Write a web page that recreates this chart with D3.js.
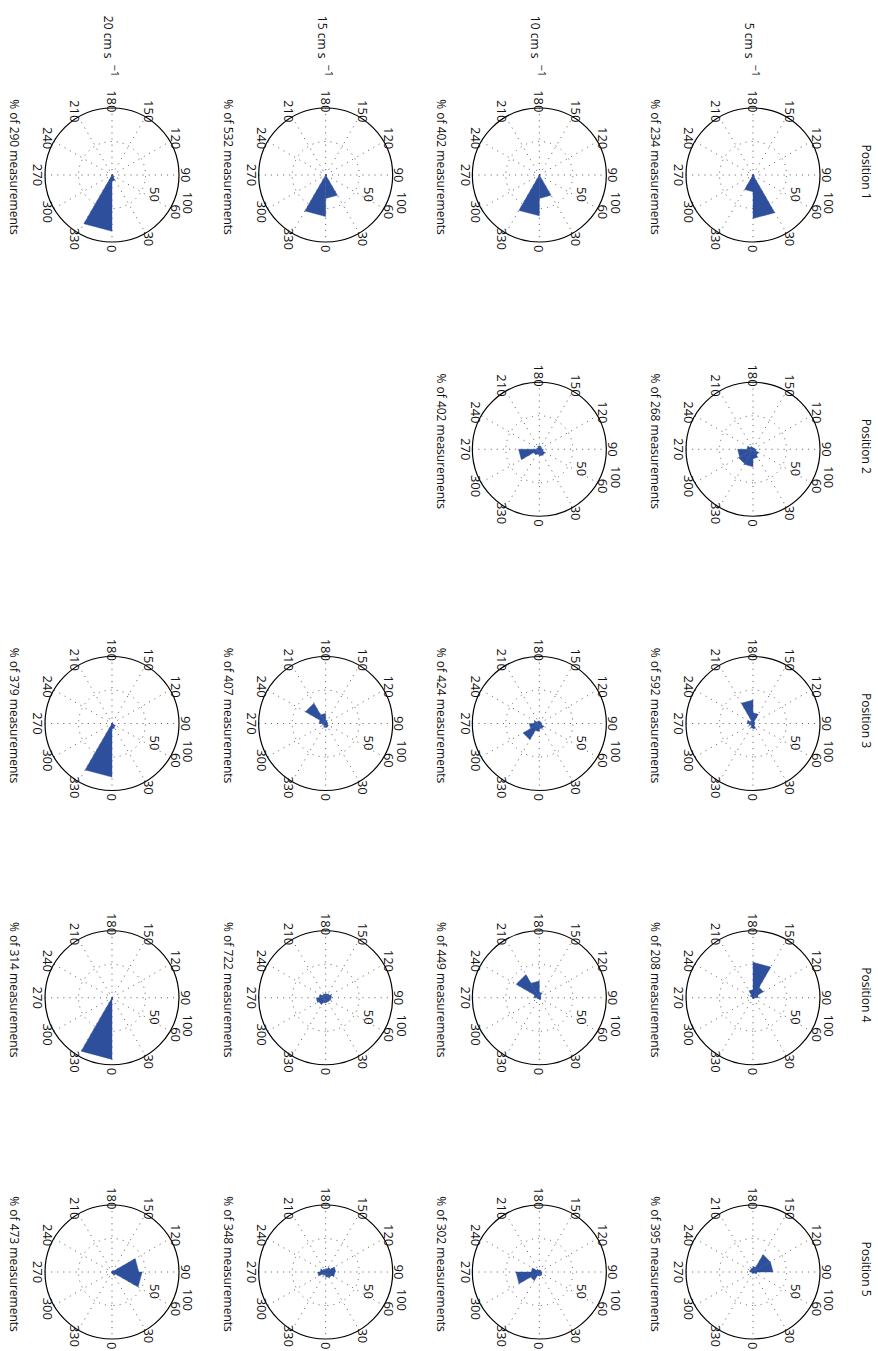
<!DOCTYPE html>
<html>
<head>
<meta charset="utf-8">
<script src="https://cdn.jsdelivr.net/npm/d3@7"></script>
<style>
  body { margin: 0; background: #fff; }
  text { font-family: "Open Sans", "Noto Sans", sans-serif; fill: #111; }
</style>
</head>
<body>
<script>
// figure is laid out landscape and then turned a quarter clockwise onto the page
var positions = [1, 2, 3, 4, 5];
var speeds = [5, 10, 15, 20];
var angleTicks = [0, 30, 60, 90, 120, 150, 180, 210, 240, 270, 300, 330];
var radialTicks = [50, 100];
var binWidth = 30;

// one rose per panel: % of measurements in each 30 deg bin (0-30, 30-60, ... 330-360)
var panelPosition = [1, 1, 1, 1, 2, 2, 3, 3, 3, 3, 4, 4, 4, 4, 5, 5, 5, 5];
var panelSpeed = [5, 10, 15, 20, 5, 10, 5, 10, 15, 20, 5, 10, 15, 20, 5, 10, 15, 20];
var panelCount = [234, 402, 532, 290, 268, 402, 592, 424, 407, 379, 208, 449, 722, 314, 395, 302, 348, 473];

var roseP1S5 = [65, 3, 1, 0.5, 0.5, 0.5, 0.5, 0.5, 0.5, 1, 2, 25];
var roseP1S10 = [35, 1, 0.5, 0.3, 0.3, 0.3, 0.3, 0.3, 0.3, 0.5, 1, 61];
var roseP1S15 = [35, 1, 0.5, 0.3, 0.3, 0.3, 0.3, 0.3, 0.3, 0.3, 1, 62];
var roseP1S20 = [9, 4, 0.5, 0.3, 0.3, 0.3, 0.3, 0.3, 0.3, 0.3, 0.5, 84];
var roseP2S5 = [14, 10, 5, 3, 2, 2, 3, 5, 9, 23, 25, 26];
var roseP2S10 = [10, 10, 6, 4, 4, 5, 5, 3, 4, 31, 10, 8];
var roseP3S5 = [8, 3, 2, 3, 3, 16, 35, 5, 9, 6, 4, 7];
var roseP3S10 = [8, 8, 4, 3, 3, 3, 4, 4, 8, 15, 28, 12];
var roseP3S15 = [6, 5, 3, 3, 3, 5, 15, 35, 10, 5, 4, 6];
var roseP3S20 = [8, 6, 1, 0.5, 0.5, 0.5, 0.5, 0.5, 0.5, 0.5, 1, 80];
var roseP4S5 = [1, 1, 2, 8, 18, 53, 12, 5, 0.5, 0.5, 0.5, 0.5];
var roseP4S10 = [3, 3, 2, 2, 3, 8, 25, 40, 8, 3, 2, 2];
var roseP4S15 = [7, 7, 8, 9, 7, 6, 6, 6, 10, 14, 12, 8];
var roseP4S20 = [3, 1, 0.5, 0.3, 0.3, 0.3, 0.3, 0.3, 0.3, 0.3, 1, 92];
var roseP5S5 = [2, 2, 6, 30, 30, 8, 6, 5, 5, 2, 2, 2];
var roseP5S10 = [6, 5, 4, 3, 3, 3, 3, 5, 12, 35, 15, 6];
var roseP5S15 = [8, 10, 14, 15, 8, 5, 4, 5, 8, 12, 6, 5];
var roseP5S20 = [3, 6, 45, 40, 3, 0.5, 0.3, 0.3, 0.3, 0.3, 0.5, 1];

var panelRose = [roseP1S5, roseP1S10, roseP1S15, roseP1S20, roseP2S5, roseP2S10,
  roseP3S5, roseP3S10, roseP3S15, roseP3S20, roseP4S5, roseP4S10, roseP4S15, roseP4S20,
  roseP5S5, roseP5S10, roseP5S15, roseP5S20];

var pageW = 878, pageH = 1351;
var R = 67;
var blue = "#2d4f9c";

var svg = d3.select("body").append("svg")
  .attr("width", pageW)
  .attr("height", pageH);

var fig = svg.append("g")
  .attr("transform", `translate(${pageW},0) rotate(90)`);

var xPos = d3.scalePoint().domain(positions).range([175, 1272]);
var yPos = d3.scalePoint().domain(speeds).range([125, 766]);
var rScale = d3.scaleLinear().domain([0, 100]).range([0, R]);

function pt(deg, r) {
  var a = deg * Math.PI / 180;
  return [rScale(r) * Math.cos(a), -rScale(r) * Math.sin(a)];
}

var wedge = d3.lineRadial()
  .angle(d => (90 - d[0]) * Math.PI / 180)
  .radius(d => rScale(d[1]))
  .curve(d3.curveLinearClosed);

// column titles
fig.selectAll(".postitle")
  .data(positions)
  .enter()
  .append("text")
  .attr("x", d => xPos(d) - 3)
  .attr("y", 16)
  .attr("text-anchor", "middle")
  .style("font-size", "12px")
  .text(d => "Position " + d);

// row titles
var rowLab = fig.selectAll(".speedtitle")
  .data(speeds)
  .enter()
  .append("text")
  .attr("x", 77)
  .attr("y", d => yPos(d) + 8)
  .attr("text-anchor", "end")
  .style("font-size", "12px");
rowLab.append("tspan").text(d => d + " cm s");
rowLab.append("tspan")
  .attr("dx", 6)
  .attr("dy", -7)
  .style("font-size", "11px")
  .text("\u22121");

panelRose.forEach(function(vals, i) {
  var cx = xPos(panelPosition[i]);
  var cy = yPos(panelSpeed[i]);
  var g = fig.append("g").attr("transform", `translate(${cx},${cy})`);

  // spokes, full diameters like the polar grid
  g.selectAll(".spoke")
    .data(angleTicks.slice(0, 6))
    .enter()
    .append("line")
    .attr("x1", d => pt(d + 180, 100)[0])
    .attr("y1", d => pt(d + 180, 100)[1])
    .attr("x2", d => pt(d, 100)[0])
    .attr("y2", d => pt(d, 100)[1])
    .attr("stroke", "#555")
    .attr("stroke-width", 0.9)
    .attr("stroke-dasharray", "1.1 5");

  g.append("circle")
    .attr("r", rScale(radialTicks[0]))
    .attr("fill", "none")
    .attr("stroke", "#555")
    .attr("stroke-width", 0.9)
    .attr("stroke-dasharray", "1.1 5");

  // rose wedges
  g.selectAll(".bin")
    .data(vals)
    .enter()
    .append("path")
    .attr("d", (v, k) => wedge([[angleTicks[k], 0], [angleTicks[k], v], [angleTicks[k] + binWidth, v]]))
    .attr("fill", blue)
    .attr("stroke", blue)
    .attr("stroke-width", 0.4);

  g.append("circle")
    .attr("r", rScale(radialTicks[1]))
    .attr("fill", "none")
    .attr("stroke", "#000")
    .attr("stroke-width", 1.2);

  g.selectAll(".alab")
    .data(angleTicks)
    .enter()
    .append("text")
    .attr("x", d => pt(d, 110)[0])
    .attr("y", d => pt(d, 110)[1])
    .attr("text-anchor", "middle")
    .attr("dominant-baseline", "central")
    .style("font-size", "13px")
    .text(d => d);

  g.selectAll(".rlab")
    .data(radialTicks)
    .enter()
    .append("text")
    .attr("x", d => pt(82, d + 2.5)[0])
    .attr("y", d => pt(82, d + 2.5)[1])
    .attr("dx", "0.55em")
    .attr("dy", "-0.25em")
    .style("font-size", "13px")
    .text(d => d);

  g.append("text")
    .attr("x", -8)
    .attr("y", 102)
    .attr("text-anchor", "middle")
    .style("font-size", "12px")
    .text("% of " + panelCount[i] + " measurements");
});
</script>
</body>
</html>
